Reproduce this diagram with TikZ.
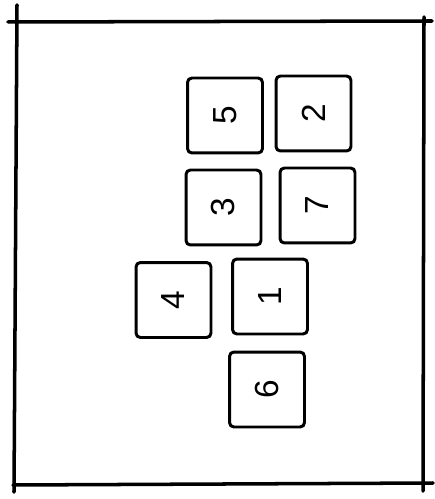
\documentclass[tikz,border=0pt]{standalone}
\usepackage{fontspec}
\setmainfont{Liberation Sans}
\tikzset{
  tile/.style={draw=black, line width=1.7pt, rounded corners=2.5pt, minimum size=1.5cm, inner sep=0pt, rotate=90, font=\fontsize{19}{19}\selectfont},
  frameline/.style={draw=black, line width=2pt, line cap=round}
}
\begin{document}
\begin{tikzpicture}[x=0.02cm, y=-0.02cm]
  \useasboundingbox[fill=white] (0,0) rectangle (434,499);
  \draw[frameline] (8,22) -- (432,21);
  \draw[frameline] (17,5) -- (14,492);
  \draw[frameline] (424,17) -- (423,491);
  \draw[frameline] (13,485) -- (433,483);
  \node[tile] (t5) at (225,115.5) {5};
  \node[tile] (t2) at (313.5,113.5) {2};
  \node[tile] (t3) at (223.5,207.5) {3};
  \node[tile] (t7) at (317.5,205.5) {7};
  \node[tile] (t4) at (173.5,300) {4};
  \node[tile] (t1) at (270,296.5) {1};
  \node[tile] (t6) at (267,389.5) {6};
\end{tikzpicture}
\end{document}
